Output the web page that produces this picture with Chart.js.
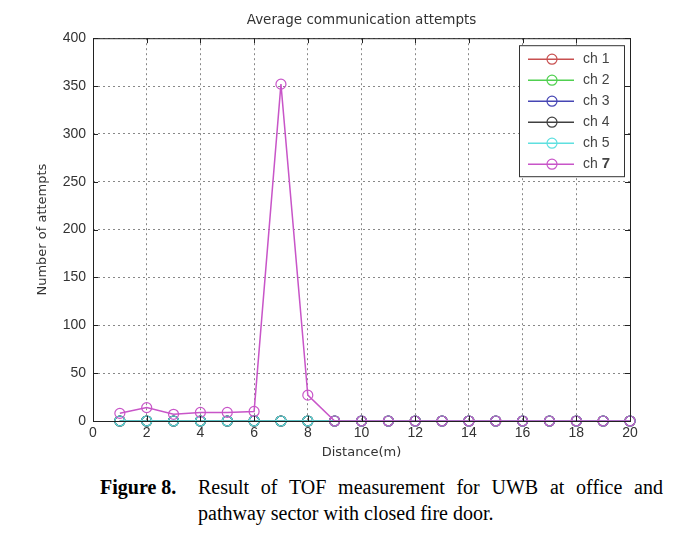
<!DOCTYPE html>
<html>
<head>
<meta charset="utf-8">
<script src="https://cdn.jsdelivr.net/npm/chart.js@4/dist/chart.umd.min.js"></script>
<style>
    body { margin: 0; background: #fff; width: 684px; height: 537px; overflow: hidden; }
    #wrap { position: relative; width: 684px; height: 470px; }
    .caption { font-family: "Liberation Serif", "Times New Roman", serif; font-size: 20px; line-height: 26px; color: #000; position: absolute; left: 100px; top: 474px; }
    .caption .row { display: flex; }
    .caption .lab { font-weight: bold; width: 98px; }
    .caption .first { width: 465px; text-align: justify; text-align-last: justify; }
</style>
</head>
<body>
<div id="wrap"><canvas id="attemptsChart" width="684" height="470"></canvas></div>
<div class="caption">
    <div class="row"><span class="lab">Figure 8.</span><span class="first">Result of TOF measurement for UWB at office and</span></div>
    <div class="row"><span class="lab"></span><span>pathway sector with closed fire door.</span></div>
</div>
<script>
const distances = [1, 2, 3, 4, 5, 6, 7, 8, 9, 10, 11, 12, 13, 14, 15, 16, 17, 18, 19, 20];
const ch1 = [0, 0, 0, 0, 0, 0, 0, 0, 0, 0, 0, 0, 0, 0, 0, 0, 0, 0, 0, 0];
const ch2 = [0, 0, 0, 0, 0, 0, 0, 0, 0, 0, 0, 0, 0, 0, 0, 0, 0, 0, 0, 0];
const ch3 = [0, 0, 0, 0, 0, 0, 0, 0, 0, 0, 0, 0, 0, 0, 0, 0, 0, 0, 0, 0];
const ch4 = [0, 0, 0, 0, 0, 0, 0, 0, 0, 0, 0, 0, 0, 0, 0, 0, 0, 0, 0, 0];
const ch5 = [0, 0, 0, 0, 0, 0, 0, 0, 0, 0, 0, 0, 0, 0, 0, 0, 0, 0, 0, 0];
const ch7 = [8, 14, 7, 9, 9, 10, 352, 27, 0, 0, 0, 0, 0, 0, 0, 0, 0, 0, 0, 0];

const channelNames = ['ch 1', 'ch 2', 'ch 3', 'ch 4', 'ch 5', 'ch 7'];
const channelColors = ['#c85050', '#50d050', '#4646b4', '#404040', '#5ee0e0', '#c855c8'];
const xTicks = [0, 2, 4, 6, 8, 10, 12, 14, 16, 18, 20];
const yTicks = [0, 50, 100, 150, 200, 250, 300, 350, 400];

const tickFont = { family: 'Liberation Sans, Arial, sans-serif', size: 14 };
const labelFont = { family: 'DejaVu Sans, sans-serif', size: 13, weight: 'normal' };

const makeSet = (i, values) => ({
    label: channelNames[i],
    data: distances.map((d, k) => ({ x: d, y: values[k] })),
    borderColor: channelColors[i],
    backgroundColor: 'rgba(0,0,0,0)',
    borderWidth: 1.5,
    pointRadius: 5,
    pointBorderWidth: 1.2,
    pointBackgroundColor: 'rgba(0,0,0,0)',
    pointBorderColor: channelColors[i],
    tension: 0,
    clip: false,
    order: 6 - i,
});

// box round the plot, inward ticks, legend inside the plot area
const matlabBox = {
    id: 'matlabBox',
    afterDraw(chart) {
        const { ctx, chartArea: a, scales } = chart;
        ctx.save();
        ctx.strokeStyle = '#222';
        ctx.lineWidth = 1;
        ctx.strokeRect(a.left + 0.5, a.top + 0.5, a.right - a.left, a.bottom - a.top);
        ctx.beginPath();
        xTicks.forEach(v => {
            const x = Math.round(scales.x.getPixelForValue(v)) + 0.5;
            ctx.moveTo(x, a.bottom); ctx.lineTo(x, a.bottom - 5);
            ctx.moveTo(x, a.top); ctx.lineTo(x, a.top + 5);
        });
        yTicks.forEach(v => {
            const y = Math.round(scales.y.getPixelForValue(v)) + 0.5;
            ctx.moveTo(a.left, y); ctx.lineTo(a.left + 5, y);
            ctx.moveTo(a.right, y); ctx.lineTo(a.right - 5, y);
        });
        ctx.stroke();

        // legend
        const bx = a.right - 111, by = a.top + 7, bw = 105, bh = 131;
        ctx.fillStyle = '#fff';
        ctx.fillRect(bx, by, bw, bh);
        ctx.strokeStyle = '#333';
        ctx.strokeRect(bx + 0.5, by + 0.5, bw, bh);
        chart.data.datasets.forEach((ds, i) => {
            const y = by + 14 + i * 21;
            ctx.strokeStyle = ds.borderColor;
            ctx.lineWidth = 1.5;
            ctx.beginPath();
            ctx.moveTo(bx + 9, y); ctx.lineTo(bx + 55, y);
            ctx.stroke();
            ctx.lineWidth = 1.2;
            ctx.beginPath();
            ctx.arc(bx + 33, y, 5, 0, Math.PI * 2);
            ctx.stroke();
            ctx.fillStyle = '#444';
            ctx.textBaseline = 'middle';
            ctx.font = '14px Liberation Sans, Arial, sans-serif';
            const parts = ds.label.split(' ');
            ctx.fillText(parts[0] + ' ', bx + 64, y);
            const w = ctx.measureText(parts[0] + ' ').width;
            if (parts[1] === '7') ctx.font = 'bold 15px Liberation Sans, Arial, sans-serif';
            ctx.fillText(parts[1], bx + 64 + w, y);
        });
        ctx.restore();
    }
};

new Chart(document.getElementById('attemptsChart').getContext('2d'), {
    type: 'line',
    data: {
        datasets: [
            makeSet(0, ch1), makeSet(1, ch2), makeSet(2, ch3),
            makeSet(3, ch4), makeSet(4, ch5), makeSet(5, ch7),
        ],
    },
    options: {
        responsive: false,
        animation: false,
        layout: { padding: { left: 0, right: 54, top: 0, bottom: 0 } },
        plugins: {
            legend: { display: false },
            tooltip: { enabled: false },
            title: {
                display: true,
                fullSize: false,
                text: 'Average communication attempts',
                color: '#333',
                font: { family: 'DejaVu Sans, sans-serif', size: 13.5, weight: 'normal' },
                padding: { top: 12, bottom: 10 },
            },
        },
        scales: {
            x: {
                type: 'linear',
                min: 0,
                max: 20,
                afterBuildTicks: s => { s.ticks = xTicks.map(v => ({ value: v })); },
                afterFit: s => { s.height = 49; },
                ticks: { color: '#333', font: tickFont, padding: 4, maxRotation: 0 },
                grid: { color: '#888', lineWidth: 1, drawTicks: false },
                border: { display: false, dash: [2, 3] },
                title: { display: true, text: 'Distance(m)', color: '#333', font: labelFont, padding: { top: 0, bottom: 10 } },
            },
            y: {
                min: 0,
                max: 400,
                afterBuildTicks: s => { s.ticks = yTicks.map(v => ({ value: v })); },
                afterFit: s => { s.width = 93; },
                ticks: { color: '#333', font: tickFont, padding: 7 },
                grid: { color: '#888', lineWidth: 1, drawTicks: false },
                border: { display: false, dash: [2, 3] },
                title: { display: true, text: 'Number of attempts', color: '#333', font: labelFont, padding: { top: 35, bottom: 0 } },
            },
        },
    },
    plugins: [matlabBox],
});
</script>
</body>
</html>
